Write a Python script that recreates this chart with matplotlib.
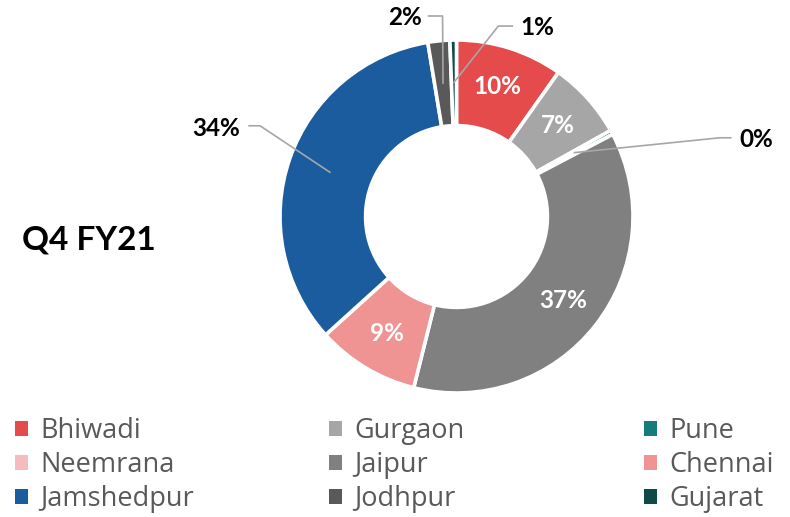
import numpy as np
import matplotlib
matplotlib.use('Agg')
import matplotlib.pyplot as plt
from matplotlib.patches import Patch

plt.rcParams['font.family'] = ['Lato', 'DejaVu Sans']

# --- data ---------------------------------------------------------------
plants = ["Bhiwadi", "Gurgaon", "Pune", "Neemrana", "Jaipur",
          "Chennai", "Jamshedpur", "Jodhpur", "Gujarat"]
share = [9.8, 7.1, 0.4, 0.0, 36.6, 9.4, 34.1, 2.0, 0.6]
colors = ["#E54B4B", "#A6A6A6", "#177B7B", "#F6BCBC", "#808080",
          "#EF9393", "#1B5C9E", "#595959", "#0D4A48"]
title = "Q4 FY21"

# labels drawn inside the ring vs. pulled out with a leader line
inside = ["Bhiwadi", "Gurgaon", "Jaipur", "Chennai"]
outside = {  # name: (text x, text y, line start x, elbow x, line y) in axes data units
    "Jamshedpur": (-1.36, 0.50, -1.175, -1.113, 0.514),
    "Jodhpur": (-0.29, 1.13, -0.158, -0.079, 1.136),
    "Gujarat": (0.46, 1.07, 0.316, 0.237, 1.079),
    "Pune": (1.70, 0.435, 1.554, 1.492, 0.446),
}

fig = plt.figure(figsize=(7.9, 5.17), dpi=100)
cx, cy, R = 456.5, 216.5, 176.5
W, H = 790, 517
ax = fig.add_axes([(cx - R) / W, (H - cy - R) / H, 2 * R / W, 2 * R / H])

wedges, _ = ax.pie(share, radius=1, startangle=90, counterclock=False,
                   colors=colors,
                   wedgeprops=dict(width=0.485, edgecolor='white', linewidth=2.6))
ax.set_xlim(-1, 1)
ax.set_ylim(-1, 1)
ax.set_aspect('equal')
ax.axis('off')

total = sum(share)
for w, name, val in zip(wedges, plants, share):
    mid = np.deg2rad((w.theta1 + w.theta2) / 2)
    lab = f"{round(val / total * 100):.0f}%"
    if name in inside:
        r = 0.77
        ax.text(r * np.cos(mid), r * np.sin(mid), lab, color='white',
                fontsize=17.5, fontweight='bold', ha='center', va='center')
    elif name in outside:
        tx, ty, lx, ex, ly = outside[name]
        ax0, ay0 = 0.76 * np.cos(mid), 0.76 * np.sin(mid)
        ax.plot([lx, ex, ax0], [ly, ly, ay0], color='#A6A6A6', lw=1.2,
                clip_on=False)
        ax.text(tx, ty, lab, color='black', fontsize=17.5, fontweight='bold',
                ha='center', va='center', clip_on=False)

fig.text(22 / W, 1 - 240 / H, title, fontsize=24, fontweight='bold',
         ha='left', va='center')

# legend: 3 columns, filled row by row
col_x = [15, 329, 644]
for c in range(3):
    handles = [Patch(facecolor=colors[i], edgecolor='none', label=plants[i])
               for i in range(c, len(plants), 3)]
    fig.legend(handles=handles, loc='upper left',
               bbox_to_anchor=(col_x[c] / W, 1 - 417 / H),
               frameon=False, prop={'family': 'Open Sans', 'size': 19.5},
               labelcolor='#595959',
               handlelength=0.48, handleheight=0.48, handletextpad=0.45,
               labelspacing=0.22, borderaxespad=0, borderpad=0)

fig.savefig("out.png", dpi=100)
